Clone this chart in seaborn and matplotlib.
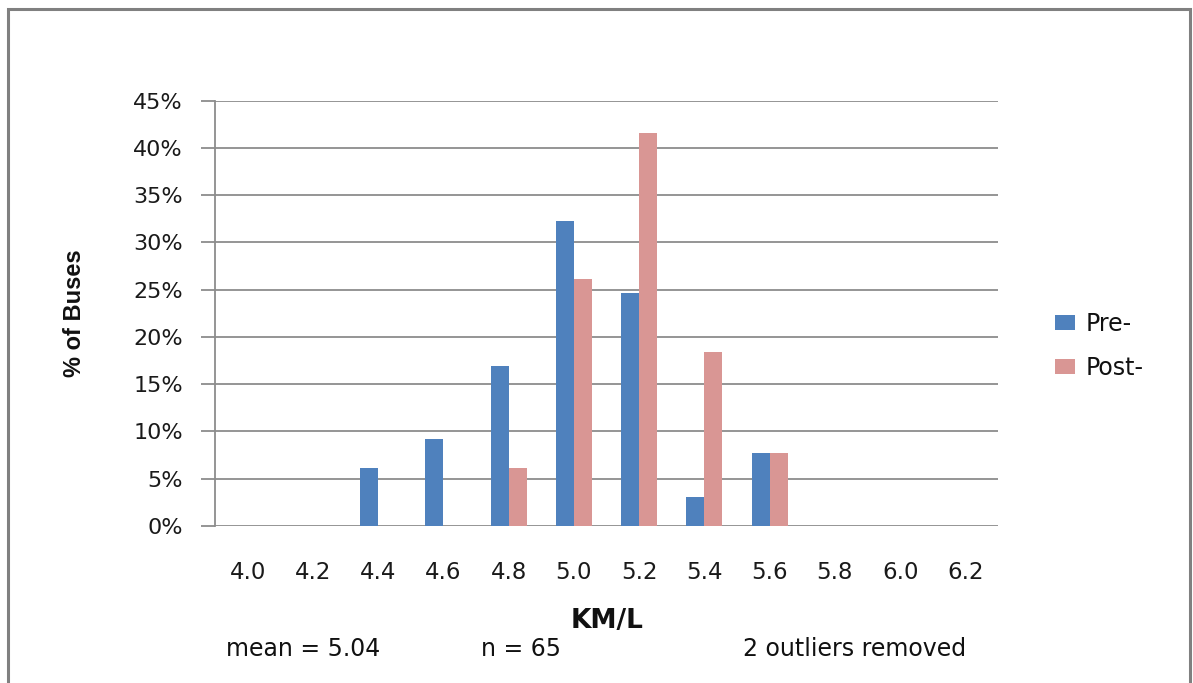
import matplotlib
matplotlib.use("Agg")
import matplotlib.pyplot as plt
from matplotlib.patches import Rectangle
from matplotlib.ticker import PercentFormatter, MultipleLocator
import seaborn as sns
import pandas as pd

# ---- data -------------------------------------------------------------
km_per_l = ["4.0", "4.2", "4.4", "4.6", "4.8", "5.0", "5.2", "5.4", "5.6", "5.8", "6.0", "6.2"]
pre_pct = [0.0, 0.0, 6.15, 9.23, 16.92, 32.31, 24.62, 3.08, 7.69, 0.0, 0.0, 0.0]
post_pct = [0.0, 0.0, 0.0, 0.0, 6.15, 26.15, 41.54, 18.46, 7.69, 0.0, 0.0, 0.0]
series_names = ["Pre-", "Post-"]
y_label = "% of Buses"
x_label = "KM/L"
footer_notes = ["mean = 5.04", "n = 65", "2 outliers removed"]

df = pd.DataFrame({
    "KM/L": km_per_l * 2,
    "pct": pre_pct + post_pct,
    "series": [series_names[0]] * len(km_per_l) + [series_names[1]] * len(km_per_l),
})

# ---- style ------------------------------------------------------------
sns.set_style("white")
plt.rcParams["font.family"] = ["DejaVu Sans"]

W, H = 1193, 683
fig = plt.figure(figsize=(W / 100, H / 100), dpi=100)
ax_left, ax_right, ax_top, ax_bot = 215, 998, 100.7, 526
ax = fig.add_axes([ax_left / W, 1 - ax_bot / H, (ax_right - ax_left) / W, (ax_bot - ax_top) / H])

blue = "#4F81BD"
pink = "#D99694"
grid_col = "#8C8C8C"

sns.barplot(data=df, x="KM/L", y="pct", hue="series", order=km_per_l,
            hue_order=series_names, palette=[blue, pink], width=0.55, gap=0,
            saturation=1, linewidth=0, ax=ax, legend=True)

ax.set_ylim(0, 45)
ax.yaxis.set_major_locator(MultipleLocator(5))
ax.yaxis.set_major_formatter(PercentFormatter(decimals=0))
ax.set_axisbelow(True)
ax.grid(axis="y", color=grid_col, linewidth=1.3)
ax.grid(axis="x", visible=False)

for s in ["top", "right", "bottom"]:
    ax.spines[s].set_visible(False)
ax.spines["left"].set_color(grid_col)
ax.spines["left"].set_linewidth(1.3)

ax.tick_params(axis="y", length=10, width=1.3, color=grid_col, pad=13,
               labelsize=16, labelcolor="#1a1a1a", left=True)
ax.tick_params(axis="x", length=0, pad=25, labelsize=16.5, labelcolor="#1a1a1a")

ax.set_ylabel(y_label, fontsize=17, fontweight="bold",
              family=["Liberation Sans", "DejaVu Sans"], va="center", color="#111111")
ax.yaxis.set_label_coords(-0.179, 0.5)
ax.set_xlabel(x_label, fontsize=19, fontweight="bold", va="center", color="#111111")
ax.xaxis.set_label_coords(0.5006, -(621 - ax_bot) / (ax_bot - ax_top))

handles, labels = ax.get_legend_handles_labels()
leg = ax.legend(handles, labels, loc="center left", bbox_to_anchor=(1055 / W, 1 - 346 / H),
                bbox_transform=fig.transFigure, frameon=False, fontsize=17,
                handlelength=0.85, handleheight=0.6, handletextpad=0.45,
                labelspacing=0.85, borderpad=0, borderaxespad=0)
for t in leg.get_texts():
    t.set_color("#111111")

# footer notes
for txt, xpx in zip(footer_notes, [226, 481, 743]):
    fig.text(xpx / W, 1 - 649 / H, txt, fontsize=17, ha="left", va="center", color="#111111")

# outer frame
fig.patches.append(Rectangle((8 / W, -0.05), (1190 - 8) / W, 1.05 - 9 / H,
                             transform=fig.transFigure, fill=False,
                             edgecolor="#808080", linewidth=2.2))

fig.savefig("out.png", dpi=100)
